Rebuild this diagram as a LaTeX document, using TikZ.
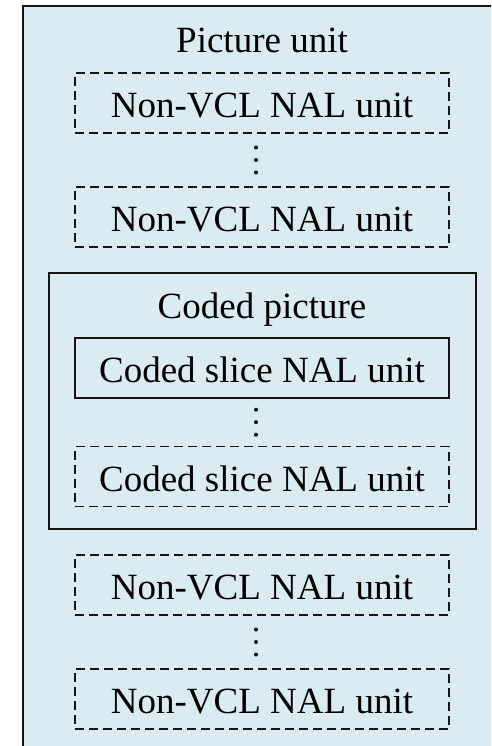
\documentclass[tikz,border=0pt]{standalone}
\usepackage{fontspec}
\setmainfont{Liberation Serif}
\usetikzlibrary{calc}
\definecolor{unitbg}{RGB}{218,236,242}
\definecolor{edge}{RGB}{20,20,20}
\begin{document}
\begin{tikzpicture}[x=1pt,y=-1pt,
  every node/.style={font=\fontsize{37}{44}\selectfont, text=black},
  nalbox/.style={draw=edge, line width=1.3pt, minimum width=374pt, minimum height=60pt,
    inner sep=0pt, text height=29pt, text depth=0pt},
  optbox/.style={nalbox, line width=1.5pt, dash pattern=on 9pt off 5pt},
  title/.style={anchor=base, inner sep=0pt},
  ellipsisdot/.style={fill=black}]
  \useasboundingbox (0,0) rectangle (491,746);
  \clip (0,0) rectangle (491,746);

  % outer picture unit container
  \draw[edge, fill=unitbg, line width=1.6pt] (23,6) rectangle (530,790);
  \node[title] (putitle) at (262,53) {Picture unit};

  % leading non-VCL NAL units
  \node[optbox] (nv1) at (262,103) {Non-VCL NAL unit};
  \node[optbox] (nv2) at (262,217) {Non-VCL NAL unit};

  % coded picture with its slices
  \node[draw=edge, line width=1.3pt, minimum width=427pt, minimum height=256pt, inner sep=0pt]
    (cp) at (262.5,401) {};
  \node[title] (cptitle) at (262,318) {Coded picture};
  \node[nalbox] (cs1) at (262,368) {Coded slice NAL unit};
  \node[optbox] (cs2) at (262,476.5) {Coded slice NAL unit};

  % trailing non-VCL NAL units
  \node[optbox] (nv3) at (262,585) {Non-VCL NAL unit};
  \node[optbox] (nv4) at (262,699) {Non-VCL NAL unit};

  % vertical ellipses between repeated units
  \foreach \a/\b/\g in {nv1/nv2/g1, cs1/cs2/g2, nv3/nv4/g3} {
    \coordinate (\g) at ($(\a.south)!0.5!(\b.north)+(-6,0)$);
    \foreach \dy in {-12.5,0,12.5}
      \fill[ellipsisdot] ($(\g)+(0,\dy)$) circle (2pt);
  }
\end{tikzpicture}
\end{document}
